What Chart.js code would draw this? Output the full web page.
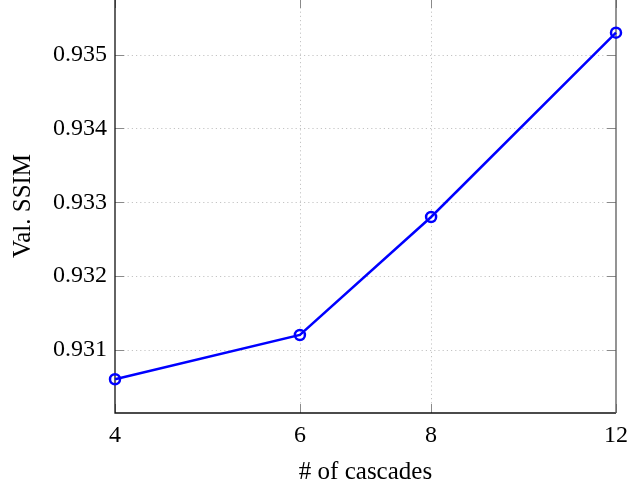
<!DOCTYPE html>
<html>
<head>
<meta charset="utf-8">
<script src="https://cdn.jsdelivr.net/npm/chart.js@4"></script>
<style>
    html, body {
        margin: 0;
        width: 629px;
        height: 486px;
        overflow: hidden;
        background: #ffffff;
        position: relative;
    }
    #cascadeChart {
        position: absolute;
        left: 0;
        top: -30px;
    }
</style>
</head>
<body>
<canvas id="cascadeChart" width="629" height="520"></canvas>
<script>
// Data
const cascades = [4, 6, 8, 12];
const valSSIM = [0.9306, 0.9312, 0.9328, 0.9353];
const xTicks = [4, 6, 8, 12];
const yTicks = [0.931, 0.932, 0.933, 0.934, 0.935];

const serif = 'Liberation Serif, Times New Roman, serif';

document.addEventListener('DOMContentLoaded', function() {
    const ctx = document.getElementById('cascadeChart').getContext('2d');

    // pgfplots-like frame: dotted grid, inward ticks, box
    const framePlugin = {
        id: 'frame',
        beforeDatasetsDraw(chart) {
            const c = chart.ctx;
            const area = chart.chartArea;
            const xs = chart.scales.x;
            const ys = chart.scales.y;
            c.save();

            // dotted grid
            c.strokeStyle = '#c4c4c4';
            c.lineWidth = 1;
            c.setLineDash([1.2, 3]);
            xTicks.forEach(v => {
                const px = Math.round(xs.getPixelForValue(v)) + 0.5;
                if (px < area.left + 2 || px > area.right - 2) return;
                c.beginPath();
                c.moveTo(px, area.top);
                c.lineTo(px, area.bottom);
                c.stroke();
            });
            yTicks.forEach(v => {
                const py = Math.round(ys.getPixelForValue(v)) + 0.5;
                c.beginPath();
                c.moveTo(area.left, py);
                c.lineTo(area.right, py);
                c.stroke();
            });
            c.setLineDash([]);

            // inward tick marks
            const len = 9;
            c.strokeStyle = '#8a8a8a';
            yTicks.forEach(v => {
                const py = Math.round(ys.getPixelForValue(v)) + 0.5;
                c.beginPath();
                c.moveTo(area.left, py);
                c.lineTo(area.left + len, py);
                c.moveTo(area.right, py);
                c.lineTo(area.right - len, py);
                c.stroke();
            });
            xTicks.forEach(v => {
                const px = Math.round(xs.getPixelForValue(v)) + 0.5;
                c.beginPath();
                c.moveTo(px, area.bottom);
                c.lineTo(px, area.bottom - len);
                c.moveTo(px, area.top);
                c.lineTo(px, area.top + len);
                c.stroke();
            });

            // axis box (top edge sits just outside the picture)
            c.lineWidth = 1.3;
            c.strokeStyle = '#111111';
            c.beginPath();
            c.moveTo(area.left, area.top);
            c.lineTo(area.left, area.bottom);
            c.lineTo(area.right, area.bottom);
            c.stroke();
            c.strokeStyle = '#5a5a5a';
            c.beginPath();
            c.moveTo(area.right, area.bottom);
            c.lineTo(area.right, area.top);
            c.stroke();

            c.restore();
        }
    };

    new Chart(ctx, {
        type: 'line',
        data: {
            datasets: [{
                data: cascades.map((c, i) => ({ x: c, y: valSSIM[i] })),
                borderColor: '#0000ff',
                borderWidth: 2.5,
                pointRadius: 5,
                pointBorderWidth: 2.5,
                pointBorderColor: '#0000ff',
                pointBackgroundColor: 'rgba(0,0,0,0)',
                tension: 0,
                clip: false
            }]
        },
        options: {
            responsive: false,
            animation: false,
            devicePixelRatio: 1,
            layout: {
                padding: { top: 29, right: 13, bottom: 0, left: 0 }
            },
            plugins: {
                legend: { display: false },
                tooltip: { enabled: false }
            },
            scales: {
                x: {
                    type: 'logarithmic',
                    min: 4,
                    max: 12,
                    afterBuildTicks: scale => {
                        scale.ticks = xTicks.map(v => ({ value: v }));
                    },
                    afterFit: scale => {
                        scale.height = 77;
                        scale.paddingLeft = 0;
                        scale.paddingRight = 0;
                    },
                    grid: { display: false, drawTicks: false },
                    border: { display: false },
                    ticks: {
                        color: '#000000',
                        font: { family: serif, size: 24 },
                        padding: 8,
                        maxRotation: 0,
                        autoSkip: false,
                        callback: v => String(v)
                    },
                    title: {
                        display: true,
                        text: '# of cascades',
                        color: '#000000',
                        font: { family: serif, size: 25 },
                        padding: { top: 4, bottom: 3 }
                    }
                },
                y: {
                    type: 'linear',
                    min: 0.930142,
                    max: 0.935756,
                    afterBuildTicks: scale => {
                        scale.ticks = yTicks.map(v => ({ value: v }));
                    },
                    afterFit: scale => {
                        scale.width = 115;
                    },
                    grid: { display: false, drawTicks: false },
                    border: { display: false },
                    ticks: {
                        color: '#000000',
                        font: { family: serif, size: 24 },
                        padding: 8,
                        callback: v => v.toFixed(3)
                    },
                    title: {
                        display: true,
                        text: 'Val. SSIM',
                        color: '#000000',
                        font: { family: serif, size: 25 },
                        padding: { top: 8, bottom: 0 }
                    }
                }
            }
        },
        plugins: [framePlugin]
    });
});
</script>
</body>
</html>
